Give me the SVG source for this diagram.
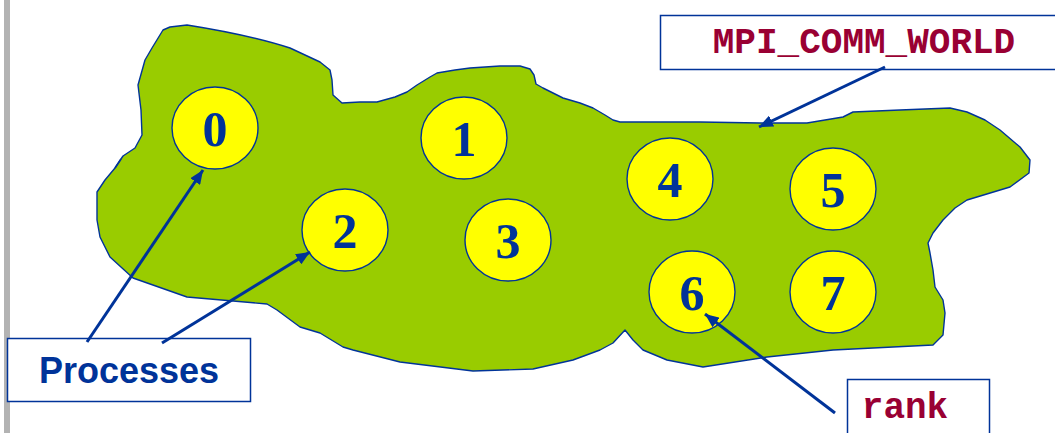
<svg xmlns="http://www.w3.org/2000/svg" width="1055" height="433" viewBox="0 0 1055 433">
<style>
.proc ellipse{fill:#ffff00;stroke:#003399;stroke-width:1.4}
.proc text{font-family:"Liberation Serif",serif;font-weight:bold;font-size:50px;fill:#003399;text-anchor:middle}
.box{fill:#ffffff;stroke:#003399;stroke-width:1.5}
.code{font-family:"Liberation Mono",monospace;font-weight:bold;font-size:36px;fill:#990033}
.conn{stroke:#003399;stroke-width:3;fill:none}
</style>
<defs>
<marker id="ah" markerUnits="userSpaceOnUse" markerWidth="16" markerHeight="12" refX="14" refY="6" orient="auto">
<path d="M0,0 L14,6 L0,12 Z" fill="#003399"/>
</marker>
</defs>
<rect x="0" y="0" width="1055" height="433" fill="#ffffff"/>
<rect x="4" y="0" width="6" height="433" fill="#b3b3b3"/>
<g id="world">
<path d="M163,30 L170,27 L187,25 Q250,35 290,48 L320,62 L330,70 L332,80 L333,95 L342,103 L360,102 L377,102 L395,97 L407,92 L417,85 L430,77 L437,73 L455,70 L470,68 L500,66 L520,66 L530,69 L534,75 L536,84 L543,88 L563,98 L580,103 L593,108 L605,115 L613,120 L620,122 L700,122 L760,123 L807,123 L843,117 L853,112 L900,110 L950,108 L967,112 L985,120 L1000,130 L1020,147 L1030,160 L1029,173 L1010,187 L967,200 L955,208 L943,220 L933,233 L928,243 L930,253 L933,270 L935,287 L943,300 L945,313 L943,335 L933,345 L833,350 L767,357 L703,367 L667,360 L643,350 L633,340 L625,330 L613,343 L600,350 L573,360 L533,369 L473,371 L400,362 L353,350 L343,347 L320,333 L300,327 L277,310 L267,304 L187,297 L133,278 L110,257 L100,237 L97,220 L97,192 L105,180 L115,168 L123,156 L135,148 L142,135 L141,110 L138,85 L145,60 L152,48 Z" fill="#99cc00" stroke="#003399" stroke-width="1.4" stroke-linejoin="round"/>
<line x1="115" y1="168" x2="121" y2="159" stroke="#003399" stroke-width="1.5"/>
</g>
<g id="p0" class="proc"><ellipse cx="215" cy="128" rx="43" ry="41"/><text x="215" y="146">0</text></g>
<g id="p1" class="proc"><ellipse cx="464" cy="138" rx="43" ry="41"/><text x="464" y="156">1</text></g>
<g id="p2" class="proc"><ellipse cx="345" cy="230" rx="43" ry="41"/><text x="345" y="248">2</text></g>
<g id="p3" class="proc"><ellipse cx="508" cy="240" rx="43" ry="41"/><text x="508" y="258">3</text></g>
<g id="p4" class="proc"><ellipse cx="670" cy="179" rx="43" ry="41"/><text x="670" y="197">4</text></g>
<g id="p5" class="proc"><ellipse cx="833" cy="189" rx="43" ry="41"/><text x="833" y="207">5</text></g>
<g id="p6" class="proc"><ellipse cx="692" cy="292" rx="43" ry="41"/><text x="692" y="310">6</text></g>
<g id="p7" class="proc"><ellipse cx="833" cy="292" rx="43" ry="41"/><text x="833" y="310">7</text></g>
<g id="processes">
<rect class="box" x="7.5" y="338.5" width="243" height="63"/>
<text x="129" y="383" font-family="'Liberation Sans',Arial,sans-serif" font-weight="bold" font-size="36" fill="#003399" text-anchor="middle">Processes</text>
</g>
<g id="mpi">
<rect class="box" x="660.5" y="15.5" width="400" height="54"/>
<text class="code" x="864" y="53" text-anchor="middle">MPI_COMM_WORLD</text>
</g>
<g id="rank">
<rect class="box" x="847.5" y="379.5" width="142" height="60"/>
<text class="code" x="905" y="418" text-anchor="middle">rank</text>
</g>
<g id="connectors">
<line class="conn" x1="87" y1="342" x2="203" y2="170" marker-end="url(#ah)"/>
<line class="conn" x1="162" y1="343" x2="310" y2="252" marker-end="url(#ah)"/>
<line class="conn" x1="885" y1="67" x2="759" y2="127" marker-end="url(#ah)"/>
<line class="conn" x1="835" y1="413" x2="705" y2="314" marker-end="url(#ah)"/>
</g>
</svg>
